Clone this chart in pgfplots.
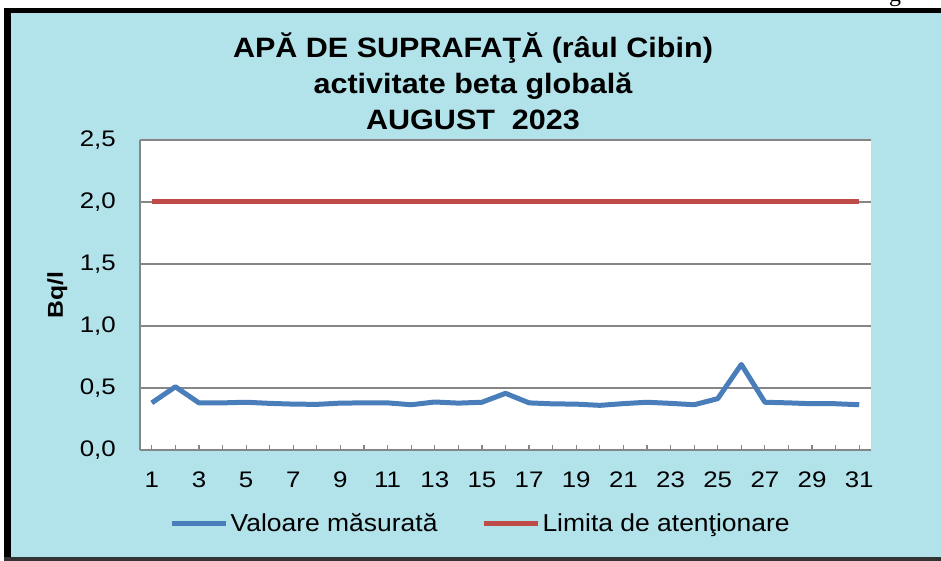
\documentclass[border=0pt]{standalone}
\usepackage{fontspec}
\setmainfont{Liberation Sans}
\newfontfamily\titlefont{Liberation Sans}[FakeStretch=1.09]
\newfontfamily\tickfont{Liberation Sans}[FakeStretch=1.15]
\newfontfamily\legfont{Liberation Sans}[FakeStretch=1.08]
\newfontfamily\serfont{Liberation Serif}
\usepackage{pgfplots}
\pgfplotsset{compat=1.18}
\definecolor{bgblue}{RGB}{178,226,234}
\definecolor{serblue}{RGB}{74,126,187}
\definecolor{serred}{RGB}{190,75,72}
\definecolor{gridgray}{RGB}{134,134,134}

\pgfplotstableread{
day val
1 0.38
2 0.51
3 0.38
4 0.38
5 0.385
6 0.376
7 0.37
8 0.368
9 0.378
10 0.38
11 0.38
12 0.365
13 0.387
14 0.378
15 0.385
16 0.457
17 0.38
18 0.372
19 0.37
20 0.36
21 0.374
22 0.385
23 0.376
24 0.365
25 0.414
26 0.69
27 0.385
28 0.38
29 0.373
30 0.373
31 0.365
}\measured

\begin{document}
\begin{tikzpicture}
\useasboundingbox (0pt,0pt) rectangle (941pt,561pt);
\fill[white] (0pt,0pt) rectangle (941pt,561pt);
\fill[bgblue] (4pt,0pt) rectangle (941pt,553pt);
\fill[black] (4pt,0pt) rectangle (11pt,553pt);
\fill[black] (4pt,548pt) rectangle (941pt,553pt);
\fill[black!80] (4pt,0pt) rectangle (941pt,4pt);
\node[anchor=base, font=\serfont\fontsize{24}{28}\selectfont, inner sep=0pt] at (895pt,559pt) {g};

\node[anchor=base, inner sep=0pt, font=\titlefont\bfseries\fontsize{28}{34}\selectfont] at (473pt,503pt) {APĂ DE SUPRAFAŢĂ (râul Cibin)};
\node[anchor=base, inner sep=0pt, font=\titlefont\bfseries\fontsize{28}{34}\selectfont] at (473pt,467pt) {activitate beta globală};
\node[anchor=base, inner sep=0pt, font=\titlefont\bfseries\fontsize{28}{34}\selectfont] at (473pt,431pt) {AUGUST~~2023};

\begin{axis}[
  at={(140pt,111pt)}, anchor=south west,
  scale only axis, width=731pt, height=310pt,
  xmin=0.5, xmax=31.5, ymin=0, ymax=2.5,
  axis background/.style={fill=white},
  axis lines*=left,
  axis line style={gridgray, line width=1.6pt},
  xtick={1,...,31},
  xticklabels={1,,3,,5,,7,,9,,11,,13,,15,,17,,19,,21,,23,,25,,27,,29,,31},
  ytick={0,0.5,1,1.5,2,2.5},
  tick align=inside,
  major tick length=5pt,
  xtick style={gridgray, line width=1.2pt},
  ytick style={draw=none},
  ymajorgrids,
  grid style={gridgray, line width=1.3pt},
  /pgf/number format/.cd, use comma, fixed, fixed zerofill, precision=1, assume math mode=true,
  /pgfplots/.cd,
  xticklabel style={font=\tickfont\fontsize{22.5}{25}\selectfont, inner sep=0pt, anchor=north, yshift=-22pt},
  yticklabel style={font=\tickfont\fontsize{22.5}{25}\selectfont, inner sep=0pt, anchor=east, xshift=-24pt},
  ylabel={Bq/l},
  ylabel style={font=\tickfont\bfseries\fontsize{21.5}{24}\selectfont, at={(axis description cs:-0.113,0.5)}, anchor=center, rotate=0},
  legend columns=2,
  legend style={at={(axis description cs:0.466,-0.2355)}, anchor=center, draw=none, fill=none,
    font=\legfont\fontsize{24.5}{28}\selectfont, nodes={inner sep=2pt}},
  legend image code/.code={\draw[#1, line width=5pt] (0pt,0pt) -- (54pt,0pt);},
]
\addplot[serblue, line width=5pt, line join=round] table[x=day, y=val] {\measured};
\addlegendentry{Valoare măsurată\hspace*{42pt}}
\addplot[serred, line width=5pt] coordinates {(1,2.0) (31,2.0)};
\addlegendentry{Limita de atenţionare}
\end{axis}
\end{tikzpicture}
\end{document}
